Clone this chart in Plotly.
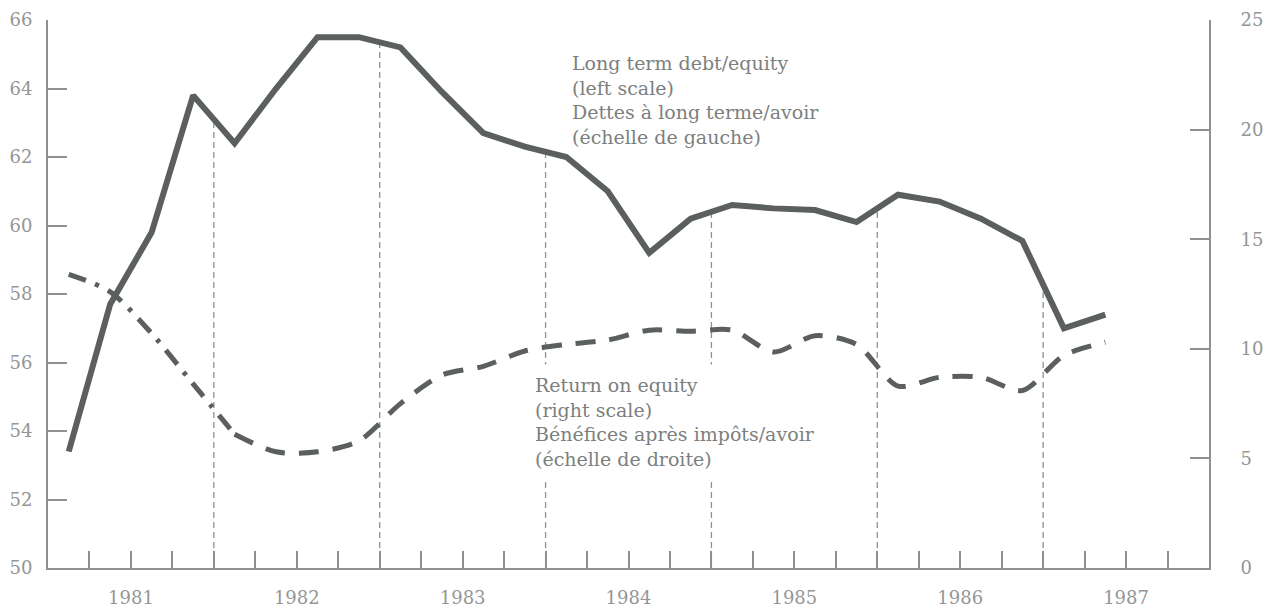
import numpy as np
import plotly.graph_objects as go

# ---- data ----
quarters = ["1981Q1", "1981Q2", "1981Q3", "1981Q4",
            "1982Q1", "1982Q2", "1982Q3", "1982Q4",
            "1983Q1", "1983Q2", "1983Q3", "1983Q4",
            "1984Q1", "1984Q2", "1984Q3", "1984Q4",
            "1985Q1", "1985Q2", "1985Q3", "1985Q4",
            "1986Q1", "1986Q2", "1986Q3", "1986Q4",
            "1987Q1", "1987Q2"]

debt_equity = [53.4, 57.7, 59.8, 63.8,
               62.4, 64.0, 65.5, 65.5,
               65.2, 63.9, 62.7, 62.3,
               62.0, 61.0, 59.2, 60.2,
               60.6, 60.5, 60.45, 60.1,
               60.9, 60.7, 60.2, 59.55,
               57.0, 57.4]

return_on_equity = [13.4, 12.6, 10.7, 8.4,
                    6.1, 5.3, 5.3, 5.8,
                    7.5, 8.8, 9.2, 9.9,
                    10.2, 10.4, 10.85, 10.8,
                    10.85, 9.85, 10.6, 10.2,
                    8.3, 8.7, 8.7, 8.1,
                    9.7, 10.3]

year_labels = ["1981", "1982", "1983", "1984", "1985", "1986", "1987"]
left_ticks = [50, 52, 54, 56, 58, 60, 62, 64, 66]
right_ticks = [0, 5, 10, 15, 20, 25]

# ---- derived positions ----
x = np.array([int(q[:4]) + (int(q[-1]) - 0.5) / 4 for q in quarters])
first_year = int(year_labels[0])
last_year = int(year_labels[-1]) + 1
tick_vals = [first_year + i * 0.25 for i in range((last_year - first_year) * 4 + 1)]
tick_text = []
for v in tick_vals:
    yr = v - 0.5
    if abs(yr - round(yr)) < 1e-9 and str(int(round(yr))) in year_labels:
        tick_text.append(str(int(round(yr))))
    else:
        tick_text.append("")
right_text = ["\u00a0\u00a0\u00a0\u00a0" + str(v) for v in right_ticks]

LINE = "#5b605d"
AXIS = "#8e9190"
TXT = "#7c7f7e"
TICKTXT = "#939695"

fig = go.Figure()

# Return on equity (right scale) – dash-dot first year, then dashed
split = 4
fig.add_trace(go.Scatter(
    x=x[:split + 1], y=return_on_equity[:split + 1], yaxis="y2", mode="lines",
    line=dict(color=LINE, width=5, dash="18px,10px,4px,10px", shape="spline", smoothing=0.8),
    hoverinfo="skip"))
fig.add_trace(go.Scatter(
    x=x[split:], y=return_on_equity[split:], yaxis="y2", mode="lines",
    line=dict(color=LINE, width=5, dash="20px,14px", shape="spline", smoothing=0.8),
    hoverinfo="skip"))

# Long term debt/equity (left scale)
fig.add_trace(go.Scatter(
    x=x, y=debt_equity, mode="lines",
    line=dict(color=LINE, width=6),
    hoverinfo="skip"))

# drop lines at year boundaries
shapes = []
for yr in range(first_year + 1, last_year):
    if yr <= x[-1]:
        yv = float(np.interp(yr, x, debt_equity))
        shapes.append(dict(type="line", xref="x", yref="y", x0=yr, x1=yr,
                           y0=left_ticks[0], y1=yv, layer="below",
                           line=dict(color=AXIS, width=1.3, dash="6px,4px")))

annotations = [
    dict(xref="paper", yref="paper", x=0.4496, y=0.945, xanchor="left", yanchor="top",
         align="left", showarrow=False,
         text="Long term debt/equity<br>(left scale)<br>Dettes à long terme/avoir<br>(échelle de gauche)",
         font=dict(family="DejaVu Serif", size=19, color=TXT)),
    dict(xref="paper", yref="paper", x=0.4108, y=0.372, xanchor="left", yanchor="top",
         align="left", showarrow=False, bgcolor="white", borderpad=9,
         text="Return on equity<br>(right scale)<br>Bénéfices après impôts/avoir<br>(échelle de droite)",
         font=dict(family="DejaVu Serif", size=19, color=TXT)),
]

fig.update_layout(
    width=1271, height=612,
    margin=dict(l=40, r=70, t=12, b=52, autoexpand=False),
    plot_bgcolor="white", paper_bgcolor="white",
    showlegend=False,
    font=dict(family="DejaVu Serif", size=18, color=TICKTXT),
    shapes=shapes,
    annotations=annotations,
    xaxis=dict(range=[first_year, last_year], tickmode="array", tickvals=tick_vals,
               ticktext=tick_text, ticks="inside", ticklen=17, tickwidth=1.5,
               tickcolor=AXIS, showline=True, linecolor=AXIS, linewidth=2,
               showgrid=False, zeroline=False, ticklabelstandoff=12, automargin=False,
               ticklabeloverflow="allow"),
    yaxis=dict(range=[left_ticks[0], left_ticks[-1]], tickmode="array", tickvals=left_ticks,
               ticks="inside", ticklen=19, tickwidth=1.5, tickcolor=AXIS,
               showline=True, linecolor=AXIS, linewidth=2,
               showgrid=False, zeroline=False, ticklabelstandoff=10, automargin=False,
               ticklabeloverflow="allow"),
    yaxis2=dict(range=[right_ticks[0], right_ticks[-1]], tickmode="array", tickvals=right_ticks,
                ticktext=right_text, overlaying="y", side="right",
                ticks="inside", ticklen=19, tickwidth=1.5, tickcolor=AXIS,
                showline=True, linecolor=AXIS, linewidth=2,
                showgrid=False, zeroline=False, automargin=False, ticklabelstandoff=3,
                ticklabeloverflow="allow"),
)

fig.write_html("out.html")
